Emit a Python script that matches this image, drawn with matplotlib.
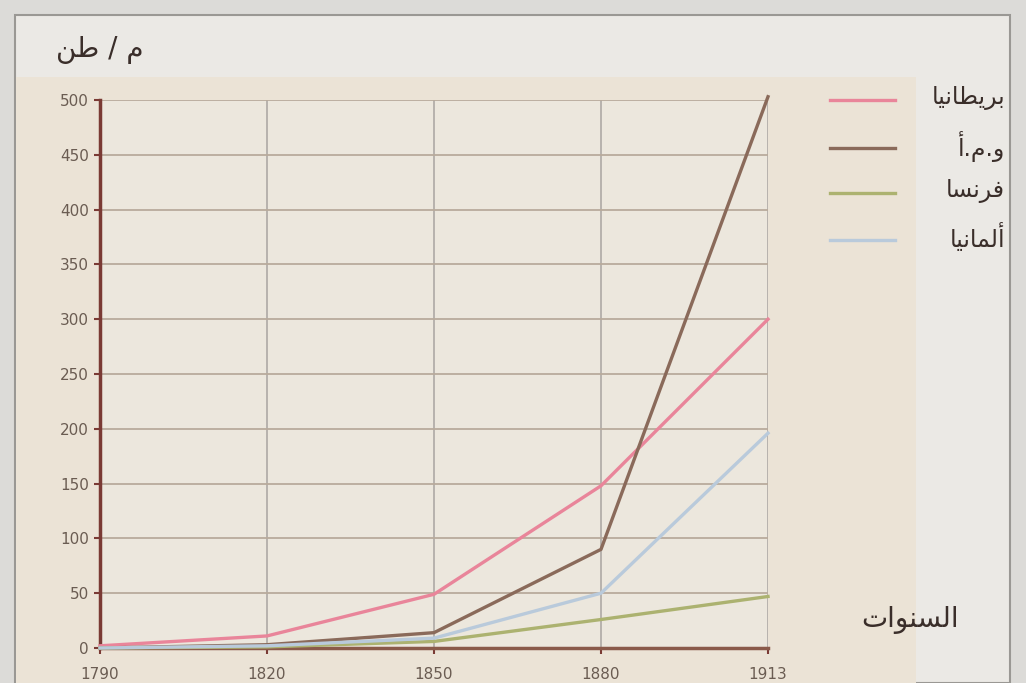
import matplotlib.pyplot as plt
from matplotlib.lines import Line2D
from matplotlib.patches import Rectangle

# data (million tons of coal)
years = ['1790', '1820', '1850', '1880', '1913']
britain = [2, 11, 49, 148, 300]
usa = [0, 3, 14, 90, 503]
france = [0, 1, 6, 26, 47]
germany = [0, 2, 9, 50, 196]

series_names = ['بريطانيا', 'و.م.أ', 'فرنسا', 'ألمانيا']
series_colors = ['#e9859a', '#8a6a5a', '#acb270', '#b9cadb']
y_label = 'م / طن'
x_label = 'السنوات'
y_ticks = list(range(0, 501, 50))

# matplotlib does not shape Arabic, so map letters to presentation forms
FORMS = {
    'ا': ('\ufe8d', '\ufe8e', None, None),
    'أ': ('\ufe83', '\ufe84', None, None),
    'ب': ('\ufe8f', '\ufe90', '\ufe91', '\ufe92'),
    'ت': ('\ufe95', '\ufe96', '\ufe97', '\ufe98'),
    'ر': ('\ufead', '\ufeae', None, None),
    'س': ('\ufeb1', '\ufeb2', '\ufeb3', '\ufeb4'),
    'ط': ('\ufec1', '\ufec2', '\ufec3', '\ufec4'),
    'ف': ('\ufed1', '\ufed2', '\ufed3', '\ufed4'),
    'ل': ('\ufedd', '\ufede', '\ufedf', '\ufee0'),
    'م': ('\ufee1', '\ufee2', '\ufee3', '\ufee4'),
    'ن': ('\ufee5', '\ufee6', '\ufee7', '\ufee8'),
    'و': ('\ufeed', '\ufeee', None, None),
    'ي': ('\ufef1', '\ufef2', '\ufef3', '\ufef4'),
}


def dual(c):
    return c in FORMS and FORMS[c][2] is not None


def shape(s):
    out = []
    for i, c in enumerate(s):
        if c not in FORMS:
            out.append(c)
            continue
        prev = s[i - 1] if i > 0 else ''
        nxt = s[i + 1] if i + 1 < len(s) else ''
        jp = dual(prev)
        jn = dual(c) and nxt in FORMS
        iso, fin, ini, med = FORMS[c]
        if jp and jn:
            out.append(med)
        elif jp:
            out.append(fin)
        elif jn:
            out.append(ini)
        else:
            out.append(iso)
    return ''.join(out)[::-1]


plt.rcParams['font.family'] = ['DejaVu Sans']

W, H = 1026, 683
fig = plt.figure(figsize=(W / 100, H / 100), dpi=100, facecolor='#dcdbd8')
# photo frame and panels
fig.patches.append(Rectangle((15 / W, 0), 995 / W, 668 / H, transform=fig.transFigure,
                             facecolor='#ebe9e5', edgecolor='#9a9894', lw=1.5, zorder=-10))
fig.patches.append(Rectangle((16 / W, 0), 900 / W, 606 / H, transform=fig.transFigure,
                             facecolor='#ebe3d6', edgecolor='none', zorder=-9))

ax = fig.add_axes([100 / W, 35 / H, 668 / W, 548 / H])
ax.set_zorder(1)
ax.set_facecolor('#ece7dd')

x = range(len(years))
for vals, col in zip([britain, usa, france, germany], series_colors):
    ax.plot(x, vals, color=col, lw=2.4, clip_on=False, zorder=3)

ax.set_xlim(0, len(years) - 1)
ax.set_ylim(0, 500)
ax.set_xticks(list(x))
ax.set_xticklabels(years)
ax.set_yticks(y_ticks)
ax.grid(True, axis='y', color='#b9ab9c', lw=1.3)
ax.grid(True, axis='x', color='#b3aeaa', lw=1.3)
ax.set_axisbelow(True)

for s in ['top', 'right']:
    ax.spines[s].set_visible(False)
ax.spines['left'].set_color('#7a3a34')
ax.spines['left'].set_linewidth(2.5)
ax.spines['bottom'].set_color('#8a5a4a')
ax.spines['bottom'].set_linewidth(2.5)
ax.tick_params(axis='y', colors='#7a3a34', length=4, width=1.5, labelsize=11,
               labelcolor='#6a5c52', pad=4)
ax.tick_params(axis='x', colors='#7a3a34', length=4, width=1.5, labelsize=11,
               labelcolor='#6a5c52', pad=10)

fig.text(100 / W, 1 - 50 / H, shape(y_label), fontsize=20, color='#3a2e2a',
         ha='center', va='center')
fig.text(910 / W, 1 - 620 / H, shape(x_label), fontsize=20, color='#3a2e2a',
         ha='center', va='center')

# legend drawn by hand: line on the left, label right-aligned at the frame
legend_y = [100, 148, 193, 240]
for name, col, ly in zip(series_names, series_colors, legend_y):
    fig.add_artist(Line2D([830 / W, 895 / W], [1 - ly / H, 1 - ly / H],
                          transform=fig.transFigure, color=col, lw=2.4))
    fig.text(1005 / W, 1 - (ly - 2) / H, shape(name), fontsize=17, color='#3a2e2a',
             ha='right', va='center')

fig.savefig('out.png', dpi=100, facecolor=fig.get_facecolor())
